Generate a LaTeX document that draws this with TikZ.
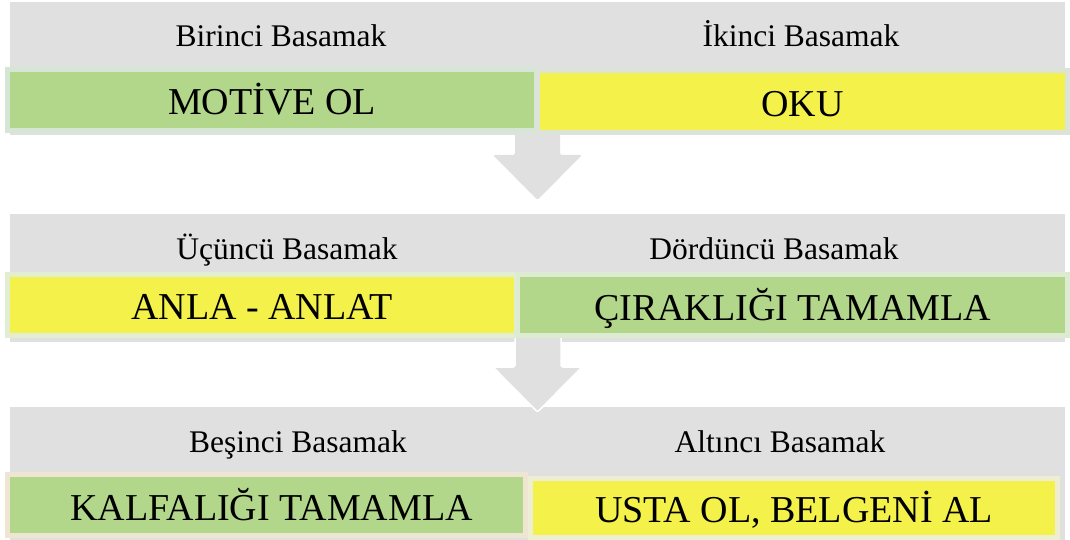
\documentclass[tikz,border=0pt]{standalone}
\usepackage{fontspec}
\setmainfont{Liberation Serif}
\definecolor{bandgray}{HTML}{E0E0E0}
\definecolor{boxgreen}{HTML}{B2D78B}
\definecolor{boxyellow}{HTML}{F4F24A}
\definecolor{rimA}{HTML}{D6E6D4}
\definecolor{rimB}{HTML}{DCE4DA}
\definecolor{rimC}{HTML}{E3EDD2}
\definecolor{rimD}{HTML}{DCEBD2}
\definecolor{rimE}{HTML}{EFE5D3}
\definecolor{rimF}{HTML}{EEEED2}
\begin{document}
\begin{tikzpicture}[x=1pt,y=-1pt,
  band/.style={fill=bandgray,draw=none},
  downarrow/.style={fill=bandgray,draw=white,line width=1.5pt,rounded corners=2pt},
  stepbox/.style={line width=5pt,inner sep=0pt,text height=30pt,text depth=0pt,
    font=\fontsize{38}{44}\selectfont},
  header/.style={anchor=base,inner sep=0pt,font=\fontsize{31.5}{36}\selectfont}]
\useasboundingbox (0,0) rectangle (1070,540);
% gray bands
\fill[band] (10,2) rectangle (1065,135);
\fill[band] (10,214) rectangle (1065,342);
% arrow 1
\path[downarrow,draw=none] (515,128) -- (515,155) -- (493,155) -- (537.5,200) -- (582,155) -- (560,155) -- (560,128) -- cycle;
\fill[band] (10,407) rectangle (1065,540);
% arrow 2
\path[downarrow] (515,336) -- (515,367) -- (493,367) -- (537.5,412) -- (582,367) -- (561,367) -- (561,336) -- cycle;
% row 1
\node[stepbox,fill=boxgreen,draw=rimA,minimum width=529pt,minimum height=61pt] (b1) at (272,100) {MOTİVE OL};
\node[stepbox,fill=boxyellow,draw=rimB,minimum width=530pt,minimum height=62pt] (b2) at (802.5,101.5) {OKU};
% row 2
\node[stepbox,fill=boxyellow,draw=rimC,minimum width=509pt,minimum height=60.5pt] (b3) at (262,304.75) {ANLA - ANLAT};
\node[stepbox,fill=boxgreen,draw=rimD,minimum width=550pt,minimum height=61pt] (b4) at (792.5,305) {ÇIRAKLIĞI TAMAMLA};
% row 3
\node[stepbox,fill=boxgreen,draw=rimE,minimum width=518pt,minimum height=61pt] (b5) at (266.5,505) {\hspace*{10pt}KALFALIĞI TAMAMLA};
\node[stepbox,fill=boxyellow,draw=rimF,minimum width=527pt,minimum height=59.5pt] (b6) at (794,507.75) {USTA OL, BELGENİ AL};
% headers
\node[header] (h1) at (281,46.5) {Birinci Basamak};
\node[header] (h2) at (801,46.5) {İkinci Basamak};
\node[header] (h3) at (287,259) {Üçüncü Basamak};
\node[header] (h4) at (774,259) {Dördüncü Basamak};
\node[header] (h5) at (298,452.5) {Beşinci Basamak};
\node[header] (h6) at (780,452.5) {Altıncı Basamak};
\end{tikzpicture}
\end{document}
